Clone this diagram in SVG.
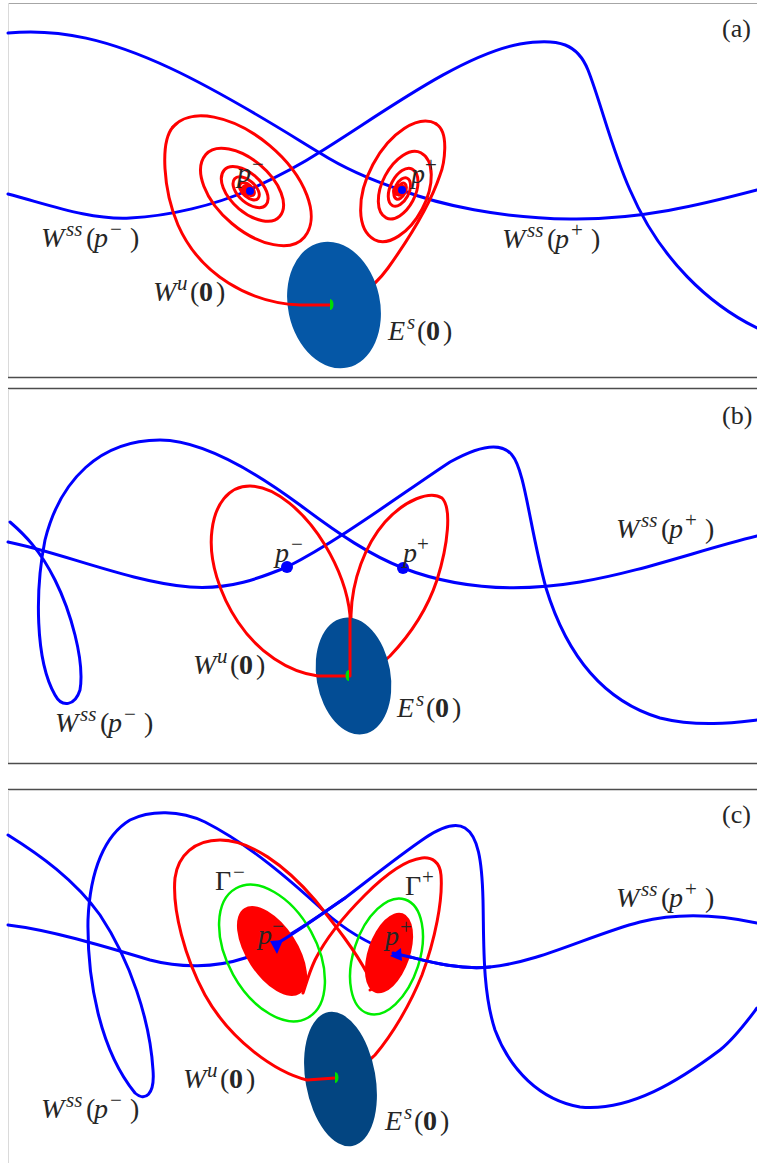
<svg xmlns="http://www.w3.org/2000/svg" width="757" height="1163" viewBox="0 0 757 1163">
<style>
.fr{stroke:#4d4d4d;stroke-width:1.5;fill:none}
.ft{stroke:#a6a6a6;stroke-width:1;fill:none}
.fl{stroke:#dadada;stroke-width:1;fill:none}
.bl{stroke:#0000ff;stroke-width:3;fill:none;stroke-linecap:round;stroke-linejoin:round}
.rd{stroke:#ff0000;stroke-width:3;fill:none;stroke-linecap:round;stroke-linejoin:round}
.gr{stroke:#00ee00;stroke-width:2.5;fill:none}
.dotb{fill:#0000ff}
.dotr{fill:#ff0000}
.org{fill:#00dd00}
.t{font-family:"Liberation Serif","Times New Roman","DejaVu Serif",serif;font-size:28px;fill:#262626}
.pl{font-family:"Liberation Serif","Times New Roman","DejaVu Serif",serif;font-size:26px;fill:#262626}
.i{font-style:italic}
.s{font-size:21px}
.b{font-weight:bold}
</style>
<rect width="757" height="1163" fill="#fff"/>

<!-- Panel (a) -->
<g id="panel-a">
  <g id="a-frame">
    <line class="ft" x1="8" y1="3.5" x2="757" y2="3.5"/>
    <line class="fl" x1="8.5" y1="3" x2="8.5" y2="377"/>
    <line class="fr" x1="8" y1="377.5" x2="757" y2="377.5"/>
  </g>
  <g id="a-connectors">
    <path class="bl" d="M8,33 C60,28 110,40 170,68 C230,96 290,135 320,153 C350,172 380,183 401,190 C440,205 500,218 570,219 C640,220 700,205 757,190"/>
    <path class="bl" d="M8,194 C50,205 90,220 130,218 C170,216 215,205 249,190 C275,178 300,165 320,152 C380,115 460,55 520,44 C560,37 578,45 588,70 C600,100 612,150 630,190 C660,260 710,305 757,328"/>
    <path class="rd" d="M330,305 C352,302 372,290 388,268 C408,240 430,205 440,175 C444,165 450,132 436,124"/>
    <g transform="translate(248,190) rotate(40)">
      <path class="rd" d="M-98,0 A85.75,48 0 0 1 73.5,0 A64.3,36 0 0 1 -55.1,0 A48.2,27 0 0 1 41.3,0 A36.15,20.2 0 0 1 -31,0 A27.15,15.2 0 0 1 23.3,0 A20.35,11.4 0 0 1 -17.4,0 A15.25,8.5 0 0 1 13.1,0 A11.45,6.4 0 0 1 -9.8,0 A8.6,4.8 0 0 1 7.4,0 A6.45,3.6 0 0 1 -5.5,0 A4.8,2.7 0 0 1 4.1,0 A3.6,2 0 0 1 -3.1,0 A2.7,1.5 0 0 1 2.3,0"/>
    </g>
    <g transform="translate(401,190) rotate(-62)">
      <path class="rd" d="M75,0 A65.65,36.8 0 0 0 -56.3,0 A49.25,27.6 0 0 0 42.2,0 A36.9,20.7 0 0 0 -31.6,0 A27.65,15.5 0 0 0 23.7,0 A20.75,11.6 0 0 0 -17.8,0 A15.55,8.7 0 0 0 13.3,0 A11.65,6.5 0 0 0 -10,0 A8.75,4.9 0 0 0 7.5,0 A6.55,3.7 0 0 0 -5.6,0 A4.9,2.7 0 0 0 4.2,0 A3.7,2.1 0 0 0 -3.2,0 A2.8,1.6 0 0 0 2.4,0"/>
    </g>
  </g>
  <g id="a-Es">
    <ellipse cx="334" cy="305" rx="46" ry="64" transform="rotate(-12 334 305)" fill="#0557a6"/>
  </g>
  <g id="a-Wu-left">
    <path class="rd" d="M330,305 L300,305 C250,303 200,275 178,225 C163,190 160,142 172.9,127"/>
  </g>
  <g id="a-origin"><path class="org" d="M330,299 A3.5,5.5 0 0 1 330,310 Z"/></g>
  <g id="a-pminus">
    <circle class="dotr" cx="245" cy="190" r="5"/>
    <circle class="dotb" cx="250" cy="191" r="4"/>
  </g>
  <g id="a-pplus">
    <circle class="dotr" cx="397" cy="191" r="5"/>
    <circle class="dotb" cx="402" cy="190" r="4"/>
  </g>
  <g id="a-labels">
    <text class="pl" x="722" y="37">(a)</text>
    <text class="t"><tspan class="i" x="237" y="182">p</tspan><tspan class="s" x="252" y="171">−</tspan></text>
    <text class="t"><tspan class="i" x="411" y="183">p</tspan><tspan class="s" x="425" y="172">+</tspan></text>
    <text class="t"><tspan class="i" x="41" y="247">W</tspan><tspan class="i s" x="66" y="236">ss</tspan><tspan x="86" y="247">(</tspan><tspan class="i" x="94" y="247">p</tspan><tspan class="s" x="110" y="236">−</tspan><tspan x="130" y="247">)</tspan></text>
    <text class="t"><tspan class="i" x="502" y="248">W</tspan><tspan class="i s" x="527" y="237">ss</tspan><tspan x="547" y="248">(</tspan><tspan class="i" x="555" y="248">p</tspan><tspan class="s" x="571" y="237">+</tspan><tspan x="591" y="248">)</tspan></text>
    <text class="t"><tspan class="i" x="153" y="301">W</tspan><tspan class="i s" x="177" y="290">u</tspan><tspan x="190" y="301">(</tspan><tspan class="b" x="199" y="301">0</tspan><tspan x="216" y="301">)</tspan></text>
    <text class="t"><tspan class="i" x="388" y="340">E</tspan><tspan class="i s" x="407" y="329">s</tspan><tspan x="417" y="340">(</tspan><tspan class="b" x="426" y="340">0</tspan><tspan x="443" y="340">)</tspan></text>
  </g>
</g>

<!-- Panel (b) -->
<g id="panel-b">
  <g id="b-frame">
    <line class="fr" x1="8" y1="388.5" x2="757" y2="388.5"/>
    <line class="fl" x1="8.5" y1="389" x2="8.5" y2="763"/>
    <line class="fr" x1="8" y1="763.5" x2="757" y2="763.5"/>
  </g>
  <g id="b-connectors">
    <path class="bl" d="M8,542 C60,552 130,582 190,587 C230,590 260,578 287,567 C340,540 400,495 450,462 C475,448 500,440 512,455 C525,470 530,530 546,588 C565,650 600,700 660,718 C700,728 740,722 757,720"/>
    <path class="bl" d="M757,536 C700,550 640,572 580,582 C520,592 460,590 403,568 C370,555 340,535 300,505 C250,468 200,440 160,440 C100,440 60,480 45,540 C35,590 35,660 55,695 C62,708 75,706 80,690 C85,660 70,610 55,580 C40,550 25,535 10,522"/>
    <path class="rd" d="M351,676 L351,615 C352,580 365,545 385,522 C405,500 430,490 442,498 C452,508 448,545 437,580 C427,610 410,635 390,656 C375,670 362,676 351,676"/>
  </g>
  <g id="b-Es">
    <ellipse cx="353.5" cy="676" rx="37" ry="59" transform="rotate(-10 353.5 676)" fill="#034d95"/>
  </g>
  <g id="b-Wu-left">
    <path class="rd" d="M349,676 L318,676 C288,672 258,652 238,622 C220,595 208,560 212,530 C215,505 228,486 250,486 C275,486 305,512 325,545 C340,570 348,595 350,615 L350,676"/>
  </g>
  <g id="b-origin"><path class="org" d="M349,670 A3.5,5.5 0 0 0 349,681 Z"/></g>
  <g id="b-pminus"><circle class="dotb" cx="287" cy="567" r="6"/></g>
  <g id="b-pplus"><circle class="dotb" cx="403" cy="568" r="6"/></g>
  <g id="b-labels">
    <text class="pl" x="722" y="424">(b)</text>
    <text class="t"><tspan class="i" x="275" y="562">p</tspan><tspan class="s" x="291" y="551">−</tspan></text>
    <text class="t"><tspan class="i" x="403" y="562">p</tspan><tspan class="s" x="417" y="551">+</tspan></text>
    <text class="t"><tspan class="i" x="55" y="732">W</tspan><tspan class="i s" x="80" y="721">ss</tspan><tspan x="100" y="732">(</tspan><tspan class="i" x="108" y="732">p</tspan><tspan class="s" x="124" y="721">−</tspan><tspan x="144" y="732">)</tspan></text>
    <text class="t"><tspan class="i" x="616" y="538">W</tspan><tspan class="i s" x="641" y="527">ss</tspan><tspan x="661" y="538">(</tspan><tspan class="i" x="669" y="538">p</tspan><tspan class="s" x="685" y="527">+</tspan><tspan x="705" y="538">)</tspan></text>
    <text class="t"><tspan class="i" x="193" y="674">W</tspan><tspan class="i s" x="217" y="663">u</tspan><tspan x="230" y="674">(</tspan><tspan class="b" x="239" y="674">0</tspan><tspan x="256" y="674">)</tspan></text>
    <text class="t"><tspan class="i" x="397" y="717">E</tspan><tspan class="i s" x="416" y="706">s</tspan><tspan x="426" y="717">(</tspan><tspan class="b" x="435" y="717">0</tspan><tspan x="452" y="717">)</tspan></text>
  </g>
</g>

<!-- Panel (c) -->
<g id="panel-c">
  <g id="c-frame">
    <line class="fr" x1="8" y1="789.5" x2="757" y2="789.5"/>
    <line class="fl" x1="8.5" y1="790" x2="8.5" y2="1163"/>
  </g>
  <g id="c-connectors">
    <path class="bl" d="M8,925 C50,930 100,945 150,960 C180,968 215,968 245,958 C260,953 268,948 275,943 C300,930 320,915 345,898 C375,875 400,855 425,838 C440,828 455,822 465,828 C478,836 482,860 483,900 C484,940 482,990 495,1030 C510,1070 540,1100 580,1107 C630,1112 680,1080 720,1050 C735,1038 748,1020 757,1008"/>
    <path class="bl" d="M757,923 C720,915 680,912 640,922 C590,935 540,962 490,967 C460,970 430,962 410,957 C400,955 395,953 391,952 C370,944 345,930 325,912 C290,880 250,845 205,822 C180,810 150,810 130,820 C105,835 90,870 88,920 C87,980 100,1050 135,1093 C145,1102 155,1095 153,1070 C150,1020 130,960 100,915 C75,880 40,855 8,835"/>
    <path class="rd" d="M335,1078 C350,1075 365,1065 375,1055 C392,1035 410,1005 422,975 C435,940 443,900 441,875 C440,862 432,857 422,858 C405,860 385,875 365,895 C345,915 325,940 315,960 C308,975 305,988 303,993"/>
  </g>
  <g id="c-Gamma-minus"><ellipse class="gr" cx="272" cy="953" rx="74" ry="44.5" transform="rotate(61 272 953)"/></g>
  <g id="c-Gamma-plus"><ellipse class="gr" cx="386.5" cy="956.5" rx="60" ry="33" transform="rotate(-72 386.5 956.5)"/></g>
  <g id="c-Es">
    <ellipse cx="340.5" cy="1079" rx="35" ry="68" transform="rotate(-10 340.5 1079)" fill="#034581"/>
  </g>
  <g id="c-Wu-left">
    <path class="rd" d="M335,1078 L307,1080 C275,1072 230,1040 205,995 C185,958 172,910 175,878 C178,855 195,840 220,840 C250,840 285,865 315,900 C335,925 355,950 368,975 C373,985 372,990 370,990"/>
  </g>
  <g id="c-blob-minus"><ellipse class="dotr" cx="272" cy="951" rx="51" ry="25.5" transform="rotate(57 272 951)"/></g>
  <g id="c-blob-plus"><ellipse class="dotr" cx="389" cy="953" rx="42" ry="21" transform="rotate(-71 389 953)"/></g>
  <g id="c-top-segments">
    <path class="bl" d="M276,944 C300,930 320,915 345,898"/>
    <path class="bl" d="M393,953 C397,954 401,955 410,957 C430,962 460,970 490,967"/>
    <polygon class="dotb" points="270,941 283,940 277,954"/>
    <polygon class="dotb" points="390,956 401,948 402,961"/>
  </g>
  <g id="c-origin"><path class="org" d="M335,1072 A3.5,5.5 0 0 1 335,1083 Z"/></g>
  <g id="c-labels">
    <text class="pl" x="722" y="823">(c)</text>
    <text class="t"><tspan x="215" y="890">Γ</tspan><tspan class="s" x="233" y="879">−</tspan></text>
    <text class="t"><tspan x="405" y="895">Γ</tspan><tspan class="s" x="422" y="884">+</tspan></text>
    <text class="t"><tspan class="i" x="258" y="944">p</tspan><tspan class="s" x="272" y="933">−</tspan></text>
    <text class="t"><tspan class="i" x="385" y="945">p</tspan><tspan class="s" x="400" y="934">+</tspan></text>
    <text class="t"><tspan class="i" x="41" y="1118">W</tspan><tspan class="i s" x="66" y="1107">ss</tspan><tspan x="86" y="1118">(</tspan><tspan class="i" x="94" y="1118">p</tspan><tspan class="s" x="110" y="1107">−</tspan><tspan x="130" y="1118">)</tspan></text>
    <text class="t"><tspan class="i" x="616" y="907">W</tspan><tspan class="i s" x="641" y="896">ss</tspan><tspan x="661" y="907">(</tspan><tspan class="i" x="669" y="907">p</tspan><tspan class="s" x="685" y="896">+</tspan><tspan x="705" y="907">)</tspan></text>
    <text class="t"><tspan class="i" x="183" y="1088">W</tspan><tspan class="i s" x="207" y="1077">u</tspan><tspan x="220" y="1088">(</tspan><tspan class="b" x="229" y="1088">0</tspan><tspan x="246" y="1088">)</tspan></text>
    <text class="t"><tspan class="i" x="385" y="1130">E</tspan><tspan class="i s" x="404" y="1119">s</tspan><tspan x="414" y="1130">(</tspan><tspan class="b" x="423" y="1130">0</tspan><tspan x="440" y="1130">)</tspan></text>
  </g>
</g>
</svg>
